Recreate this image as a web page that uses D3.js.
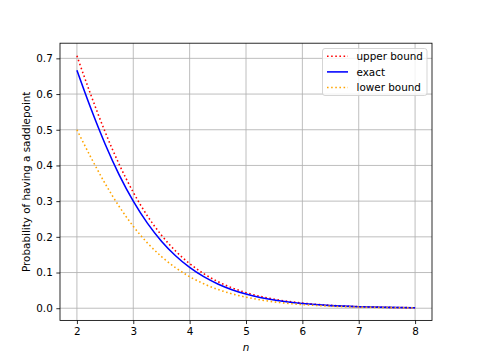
<!DOCTYPE html>
<html><head><meta charset="utf-8">
<script src="https://cdn.jsdelivr.net/npm/d3@7"></script>
<style>body{margin:0;background:#fff}svg{display:block;font-family:"DejaVu Sans",sans-serif}</style>
</head><body><svg id="c" width="480" height="360"></svg>
<script>
const nValues = [2,2.25,2.5,2.75,3,3.25,3.5,3.75,4,4.25,4.5,4.75,5,5.25,5.5,5.75,6,6.5,7,7.5,8];
const upperBound = [0.7071,0.5966,0.4941,0.4031,0.3248,0.2589,0.2046,0.1605,0.1250,0.0968,0.0746,0.0572,0.0437,0.0332,0.0252,0.0190,0.0144,0.0081,0.0045,0.0025,0.0014];
const exact = [0.6667,0.5587,0.4602,0.3737,0.3000,0.2384,0.1879,0.1470,0.1143,0.0883,0.0679,0.0520,0.0397,0.0302,0.0228,0.0172,0.0130,0.0073,0.0041,0.0023,0.0012];
const lowerBound = [0.5000,0.4219,0.3494,0.2850,0.2296,0.1831,0.1447,0.1135,0.0884,0.0685,0.0527,0.0404,0.0309,0.0235,0.0178,0.0135,0.0101,0.0057,0.0032,0.0018,0.0010];
const xTicks = [2,3,4,5,6,7,8];
const yTicks = [0,0.1,0.2,0.3,0.4,0.5,0.6,0.7];
const seriesNames = ["upper bound","exact","lower bound"];

const svg = d3.select("#c");
const L=60,R=432,T=43.2,B=320.4;
const x = d3.scaleLinear().domain([1.7,8.3]).range([L,R]);
const y = d3.scaleLinear().domain([-0.03412,0.74245]).range([B,T]);

// grid
const g = svg.append("g");
g.selectAll(".gx").data(xTicks).enter().append("line")
 .attr("x1",d=>x(d)).attr("x2",d=>x(d)).attr("y1",T).attr("y2",B)
 .attr("stroke","#b0b0b0").attr("stroke-width",0.83);
g.selectAll(".gy").data(yTicks).enter().append("line")
 .attr("y1",d=>y(d)).attr("y2",d=>y(d)).attr("x1",L).attr("x2",R)
 .attr("stroke","#b0b0b0").attr("stroke-width",0.83);

const series = [
 {name:seriesNames[0], vals:upperBound, color:"red", dash:"1.56,2.58"},
 {name:seriesNames[1], vals:exact, color:"blue", dash:null},
 {name:seriesNames[2], vals:lowerBound, color:"orange", dash:"1.56,2.58"}
];
const line = d3.line().x(d=>x(d[0])).y(d=>y(d[1])).curve(d3.curveMonotoneX);
series.forEach(s=>{
 svg.append("path").datum(nValues.map((n,i)=>[n,s.vals[i]]))
  .attr("d",line).attr("fill","none").attr("stroke",s.color)
  .attr("stroke-width",1.56).attr("stroke-dasharray",s.dash);
});

// axes
const xa = svg.append("g").attr("transform",`translate(0,${B})`)
 .call(d3.axisBottom(x).tickValues(xTicks).tickFormat(d3.format("d")).tickSizeOuter(0).tickSize(3.65).tickPadding(3.6));
const ya = svg.append("g").attr("transform",`translate(${L},0)`)
 .call(d3.axisLeft(y).tickValues(yTicks).tickFormat(d3.format(".1f")).tickSizeOuter(0).tickSize(3.65).tickPadding(3.6));
[xa,ya].forEach(a=>{a.select(".domain").remove();
 a.selectAll("text").attr("font-size",10.4).attr("fill","#000").attr("font-family","DejaVu Sans");
 a.selectAll("line").attr("stroke","#000").attr("stroke-width",0.83);});
svg.append("rect").attr("x",L).attr("y",T).attr("width",R-L).attr("height",B-T)
 .attr("fill","none").attr("stroke","#000").attr("stroke-width",0.83);

svg.append("text").attr("x",(L+R)/2).attr("y",351).attr("text-anchor","middle")
 .attr("font-size",10.4).attr("font-style","italic").text("n");
svg.append("text").attr("transform",`translate(29.5,${(T+B)/2}) rotate(-90)`)
 .attr("text-anchor","middle").attr("font-size",10.4).text("Probability of having a saddlepoint");

// legend
const lg = svg.append("g");
lg.append("rect").attr("x",322.5).attr("y",48.5).attr("width",104.5).attr("height",47)
 .attr("rx",2.5).attr("fill","#fff").attr("fill-opacity",0.8).attr("stroke","#cccccc").attr("stroke-width",0.83);
series.forEach((s,i)=>{
 const yy = 56.3 + i*15.6;
 lg.append("line").attr("x1",327).attr("x2",348).attr("y1",yy).attr("y2",yy)
  .attr("stroke",s.color).attr("stroke-width",1.56).attr("stroke-dasharray",s.dash);
 lg.append("text").attr("x",356.5).attr("y",yy+3.7).attr("font-size",10.4).text(s.name);
});
</script></body></html>
